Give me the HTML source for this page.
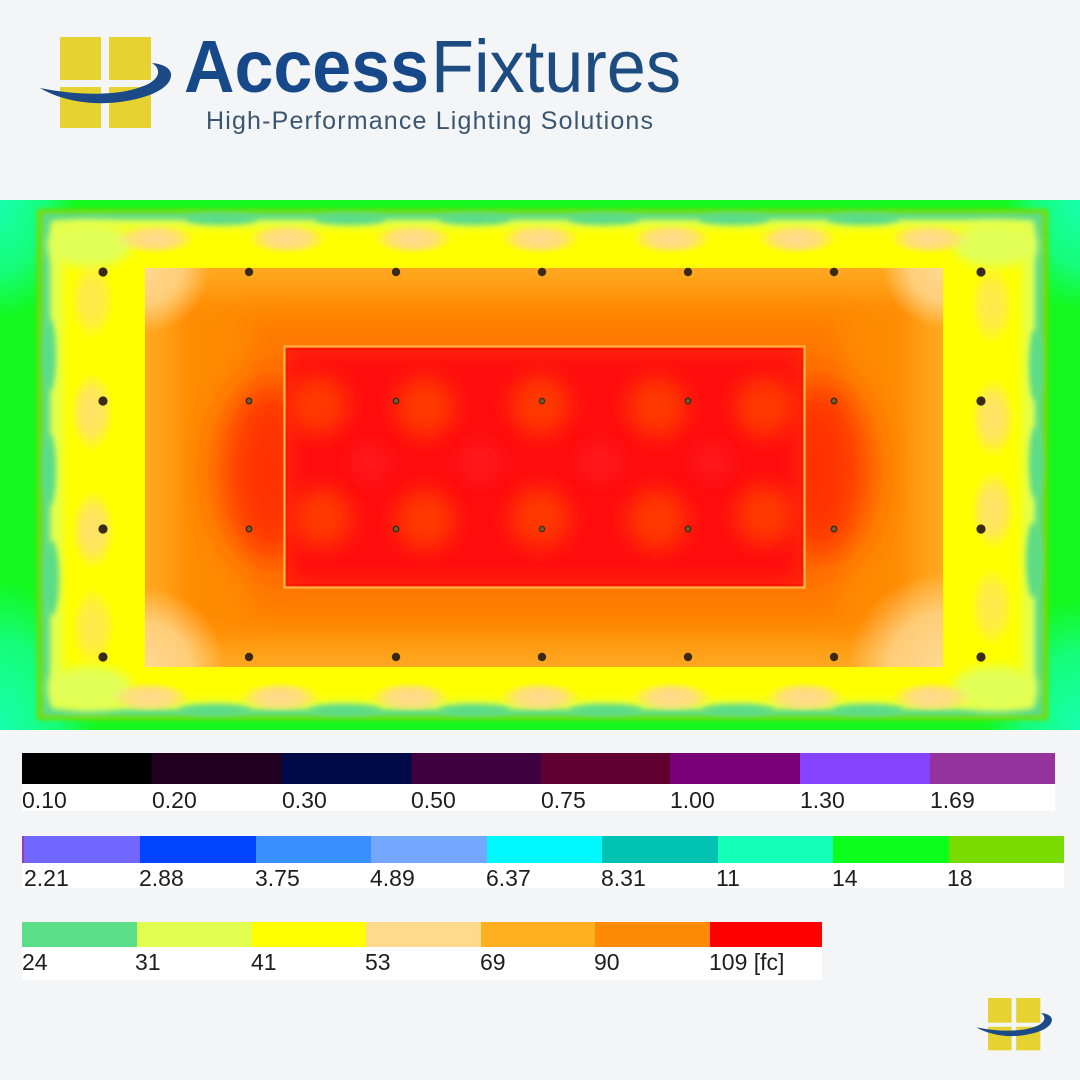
<!DOCTYPE html>
<html><head><meta charset="utf-8"><style>
html,body{margin:0;padding:0;background:#f4f5f7;width:1080px;height:1080px;overflow:hidden}
svg{display:block}
</style></head><body>
<svg width="1080" height="1080" viewBox="0 0 1080 1080" xmlns="http://www.w3.org/2000/svg" font-family="'Liberation Sans', Arial, sans-serif">
<defs>
  <clipPath id="hm"><rect x="0" y="200" width="1080" height="530"/></clipPath>
  <clipPath id="orc"><rect x="145" y="268" width="798" height="399"/></clipPath>
  <clipPath id="rdc"><rect x="284" y="346" width="521" height="242"/></clipPath>
  <filter id="b2" x="-20%" y="-20%" width="140%" height="140%"><feGaussianBlur stdDeviation="2"/></filter>
  <filter id="b3" x="-20%" y="-20%" width="140%" height="140%"><feGaussianBlur stdDeviation="3"/></filter>
  <filter id="b5" x="-20%" y="-20%" width="140%" height="140%"><feGaussianBlur stdDeviation="5"/></filter>
  <filter id="bs" x="-60%" y="-60%" width="220%" height="220%"><feGaussianBlur stdDeviation="5"/></filter>
  <filter id="bs3" x="-60%" y="-60%" width="220%" height="220%"><feGaussianBlur stdDeviation="3"/></filter>
  <filter id="b10" x="-60%" y="-60%" width="220%" height="220%"><feGaussianBlur stdDeviation="10"/></filter>
  <filter id="b12" x="-30%" y="-30%" width="160%" height="160%"><feGaussianBlur stdDeviation="12"/></filter>
  <filter id="b14" x="-30%" y="-30%" width="160%" height="160%"><feGaussianBlur stdDeviation="14"/></filter>
  <filter id="b18" x="-60%" y="-60%" width="220%" height="220%"><feGaussianBlur stdDeviation="18"/></filter>
  <radialGradient id="cy">
    <stop offset="0" stop-color="#16ffb0" stop-opacity="1"/>
    <stop offset="0.6" stop-color="#16ffa0" stop-opacity="0.7"/>
    <stop offset="1" stop-color="#16ff90" stop-opacity="0"/>
  </radialGradient>
  <radialGradient id="pale">
    <stop offset="0" stop-color="#ffd890" stop-opacity="1"/>
    <stop offset="0.55" stop-color="#ffd890" stop-opacity="0.8"/>
    <stop offset="1" stop-color="#ffd890" stop-opacity="0"/>
  </radialGradient>
  <g id="logo">
    <rect x="60" y="37" width="41" height="43" fill="#e6d332"/>
    <rect x="109" y="37" width="42" height="43" fill="#e6d332"/>
    <rect x="60" y="87" width="41" height="41" fill="#e6d332"/>
    <rect x="109" y="87" width="42" height="41" fill="#e6d332"/>
    <path d="M40,88 C60,100 90,106 120,102 C150,98 170,88 171,76 C172,69 164,64 152,63 C160,68 161,76 150,83 C130,94 90,98 40,88 Z" fill="#1b4a86"/>
  </g>
</defs>

<rect width="1080" height="1080" fill="#f4f5f7"/>

<!-- Header logo -->
<use href="#logo"/>
<text x="184" y="92" font-size="74" font-weight="bold" fill="#17498a" textLength="245" lengthAdjust="spacingAndGlyphs">Access</text>
<text x="431" y="92" font-size="74" fill="#1d4d80" textLength="250" lengthAdjust="spacingAndGlyphs">Fixtures</text>
<text x="206" y="129" font-size="25" fill="#3b5670" textLength="447" lengthAdjust="spacing">High-Performance Lighting Solutions</text>

<!-- Heatmap -->
<g clip-path="url(#hm)">
  <rect x="0" y="200" width="1080" height="530" fill="#14f820"/>
  <ellipse cx="0" cy="200" rx="75" ry="120" fill="url(#cy)"/>
  <ellipse cx="1080" cy="200" rx="75" ry="110" fill="url(#cy)"/>
  <ellipse cx="0" cy="730" rx="95" ry="150" fill="url(#cy)"/>
  <ellipse cx="1080" cy="730" rx="95" ry="130" fill="url(#cy)"/>
  <rect x="37" y="209" width="1011" height="511" fill="#74dc00" filter="url(#b2)"/>
  <rect x="42" y="213" width="1001" height="503" fill="#5cdc86" filter="url(#b2)"/>
  <rect x="50" y="220" width="985" height="489" rx="6" fill="#e0ff52" filter="url(#b3)"/>
  <rect x="62" y="227" width="961" height="475" rx="10" fill="#ffff00" filter="url(#b5)"/>

  <!-- teal waves -->
  <g fill="#5cdc86" filter="url(#bs3)">
    <ellipse cx="221" cy="219" rx="36" ry="6"/>
    <ellipse cx="350" cy="219" rx="36" ry="6"/>
    <ellipse cx="475" cy="219" rx="36" ry="6"/>
    <ellipse cx="604" cy="219" rx="36" ry="6"/>
    <ellipse cx="734" cy="219" rx="36" ry="6"/>
    <ellipse cx="863" cy="219" rx="36" ry="6"/>
    <ellipse cx="215" cy="710" rx="36" ry="6"/>
    <ellipse cx="345" cy="710" rx="36" ry="6"/>
    <ellipse cx="475" cy="710" rx="36" ry="6"/>
    <ellipse cx="606" cy="710" rx="36" ry="6"/>
    <ellipse cx="738" cy="710" rx="36" ry="6"/>
    <ellipse cx="868" cy="710" rx="36" ry="6"/>
    <ellipse cx="49" cy="355" rx="7" ry="36"/>
    <ellipse cx="49" cy="470" rx="7" ry="36"/>
    <ellipse cx="51" cy="578" rx="8" ry="38"/>
    <ellipse cx="1036" cy="365" rx="7" ry="36"/>
    <ellipse cx="1036" cy="463" rx="7" ry="36"/>
    <ellipse cx="1034" cy="560" rx="8" ry="38"/>
  </g>
  <!-- corner yellow-green -->
  <g fill="#e2ff58" filter="url(#bs)">
    <ellipse cx="90" cy="245" rx="42" ry="22"/>
    <ellipse cx="995" cy="245" rx="42" ry="22"/>
    <ellipse cx="90" cy="688" rx="42" ry="22"/>
    <ellipse cx="995" cy="688" rx="42" ry="22"/>
  </g>
  <!-- pale blobs top/bottom -->
  <g fill="url(#pale)">
    <ellipse cx="155" cy="239" rx="40" ry="15"/>
    <ellipse cx="287" cy="239" rx="40" ry="15"/>
    <ellipse cx="413" cy="239" rx="40" ry="15"/>
    <ellipse cx="540" cy="239" rx="40" ry="15"/>
    <ellipse cx="671" cy="239" rx="40" ry="15"/>
    <ellipse cx="797" cy="239" rx="40" ry="15"/>
    <ellipse cx="929" cy="239" rx="40" ry="15"/>
    <ellipse cx="150" cy="697" rx="40" ry="15"/>
    <ellipse cx="280" cy="697" rx="40" ry="15"/>
    <ellipse cx="410" cy="697" rx="40" ry="15"/>
    <ellipse cx="540" cy="697" rx="40" ry="15"/>
    <ellipse cx="672" cy="697" rx="40" ry="15"/>
    <ellipse cx="805" cy="697" rx="40" ry="15"/>
    <ellipse cx="932" cy="697" rx="40" ry="15"/>
    <ellipse cx="92" cy="300" rx="22" ry="40" opacity="0.55"/>
    <ellipse cx="92" cy="412" rx="22" ry="40" opacity="0.75"/>
    <ellipse cx="93" cy="530" rx="22" ry="40" opacity="0.75"/>
    <ellipse cx="93" cy="627" rx="22" ry="40" opacity="0.55"/>
    <ellipse cx="992" cy="305" rx="22" ry="40" opacity="0.55"/>
    <ellipse cx="993" cy="418" rx="22" ry="40" opacity="0.75"/>
    <ellipse cx="993" cy="510" rx="22" ry="40" opacity="0.75"/>
    <ellipse cx="992" cy="607" rx="22" ry="40" opacity="0.55"/>
  </g>

  <!-- Orange rectangle -->
  <g clip-path="url(#orc)">
    <rect x="145" y="268" width="798" height="399" fill="#ffa820"/>
    <rect x="172" y="292" width="744" height="351" fill="#ff8a00" filter="url(#b14)"/>
    <rect x="250" y="320" width="590" height="295" fill="#ff6a00" filter="url(#b14)" opacity="0.55"/>
    <ellipse cx="270" cy="472" rx="50" ry="90" fill="#ff2400" filter="url(#b18)" opacity="0.8"/>
    <ellipse cx="820" cy="470" rx="50" ry="90" fill="#ff2400" filter="url(#b18)" opacity="0.8"/>
    <circle cx="145" cy="268" r="65" fill="url(#pale)"/>
    <circle cx="943" cy="268" r="60" fill="url(#pale)"/>
    <circle cx="145" cy="667" r="80" fill="url(#pale)"/>
    <circle cx="943" cy="667" r="95" fill="url(#pale)"/>
  </g>

  <!-- Red rectangle -->
  <g clip-path="url(#rdc)">
    <rect x="284" y="346" width="521" height="242" fill="#ff2800"/>
    <rect x="288" y="350" width="513" height="234" fill="#ff0808" filter="url(#b12)"/>
    <g fill="#ff3800" filter="url(#b10)">
      <circle cx="318" cy="405" r="30"/>
      <circle cx="425" cy="407" r="30"/>
      <circle cx="540" cy="405" r="30"/>
      <circle cx="657" cy="407" r="30"/>
      <circle cx="765" cy="407" r="30"/>
      <circle cx="322" cy="518" r="30"/>
      <circle cx="425" cy="520" r="30"/>
      <circle cx="540" cy="518" r="30"/>
      <circle cx="657" cy="520" r="30"/>
      <circle cx="765" cy="515" r="30"/>
    </g>
    <g fill="#ff1a24" filter="url(#b10)" opacity="0.7">
      <circle cx="480" cy="462" r="22"/>
      <circle cx="600" cy="462" r="22"/>
      <circle cx="370" cy="462" r="20"/>
      <circle cx="712" cy="462" r="20"/>
    </g>
  </g>
  <rect x="284.5" y="346.5" width="520" height="241" fill="none" stroke="#ffb448" stroke-width="2.2"/>

  <!-- fixtures -->
  <g fill="#3a2a14">
    <circle cx="103" cy="272" r="4.6"/><circle cx="249" cy="272" r="4.2"/><circle cx="396" cy="272" r="4.2"/><circle cx="542" cy="272" r="4.2"/><circle cx="688" cy="272" r="4.2"/><circle cx="834" cy="272" r="4.2"/><circle cx="981" cy="272" r="4.6"/>
    <circle cx="103" cy="401" r="4.6"/><circle cx="981" cy="401" r="4.6"/>
    <circle cx="103" cy="529" r="4.6"/><circle cx="981" cy="529" r="4.6"/>
    <circle cx="103" cy="657" r="4.6"/><circle cx="249" cy="657" r="4.2"/><circle cx="396" cy="657" r="4.2"/><circle cx="542" cy="657" r="4.2"/><circle cx="688" cy="657" r="4.2"/><circle cx="834" cy="657" r="4.2"/><circle cx="981" cy="657" r="4.6"/>
  </g>
  <g fill="#7a5a30" stroke="#3a2a14" stroke-width="1.3">
    <circle cx="249" cy="401" r="2.8"/><circle cx="396" cy="401" r="2.8"/><circle cx="542" cy="401" r="2.6"/><circle cx="688" cy="401" r="2.8"/><circle cx="834" cy="401" r="2.8"/>
    <circle cx="249" cy="529" r="2.8"/><circle cx="396" cy="529" r="2.8"/><circle cx="542" cy="529" r="2.6"/><circle cx="688" cy="529" r="2.8"/><circle cx="834" cy="529" r="2.8"/>
  </g>
</g>

<!-- Legend row 1 -->
<rect x="22" y="784" width="1033" height="27" fill="#ffffff"/>
<rect x="22" y="753" width="130" height="31" fill="#000000"/>
<rect x="151.5" y="753" width="130.5" height="31" fill="#22001f"/>
<rect x="281.5" y="753" width="130.5" height="31" fill="#000a48"/>
<rect x="411.5" y="753" width="130" height="31" fill="#3e003e"/>
<rect x="541" y="753" width="129.5" height="31" fill="#5f0030"/>
<rect x="670" y="753" width="130.5" height="31" fill="#780078"/>
<rect x="800" y="753" width="130.5" height="31" fill="#8542ff"/>
<rect x="930" y="753" width="125" height="31" fill="#95329c"/>
<g font-size="23" fill="#1e1e1e">
  <text x="22" y="808">0.10</text>
  <text x="152" y="808">0.20</text>
  <text x="282" y="808">0.30</text>
  <text x="411" y="808">0.50</text>
  <text x="541" y="808">0.75</text>
  <text x="670" y="808">1.00</text>
  <text x="800" y="808">1.30</text>
  <text x="930" y="808">1.69</text>
</g>

<!-- Legend row 2 -->
<rect x="22" y="863" width="1042" height="25" fill="#ffffff"/>
<rect x="22" y="836" width="2.5" height="27" fill="#9a3cb0"/>
<rect x="24" y="836" width="116.5" height="27" fill="#7166ff"/>
<rect x="140" y="836" width="116.5" height="27" fill="#0044ff"/>
<rect x="256" y="836" width="115.5" height="27" fill="#3890ff"/>
<rect x="371" y="836" width="116.5" height="27" fill="#74a8ff"/>
<rect x="487" y="836" width="115.5" height="27" fill="#00f8ff"/>
<rect x="602" y="836" width="116.5" height="27" fill="#00c2b2"/>
<rect x="718" y="836" width="115.5" height="27" fill="#14ffb8"/>
<rect x="833" y="836" width="116.5" height="27" fill="#0cff1c"/>
<rect x="949" y="836" width="115" height="27" fill="#78dc00"/>
<g font-size="23" fill="#1e1e1e">
  <text x="24" y="886">2.21</text>
  <text x="139" y="886">2.88</text>
  <text x="255" y="886">3.75</text>
  <text x="370" y="886">4.89</text>
  <text x="486" y="886">6.37</text>
  <text x="601" y="886">8.31</text>
  <text x="716" y="886">11</text>
  <text x="832" y="886">14</text>
  <text x="947" y="886">18</text>
</g>

<!-- Legend row 3 -->
<rect x="22" y="947" width="800" height="33" fill="#ffffff"/>
<rect x="22" y="922" width="115.5" height="25" fill="#5ade88"/>
<rect x="137" y="922" width="115.5" height="25" fill="#e2ff50"/>
<rect x="252" y="922" width="114.5" height="25" fill="#ffff00"/>
<rect x="366" y="922" width="115.5" height="25" fill="#ffda8c"/>
<rect x="481" y="922" width="114.5" height="25" fill="#ffb020"/>
<rect x="595" y="922" width="115.5" height="25" fill="#ff8a08"/>
<rect x="710" y="922" width="112" height="25" fill="#ff0000"/>
<g font-size="23" fill="#1e1e1e">
  <text x="22" y="970">24</text>
  <text x="135" y="970">31</text>
  <text x="251" y="970">41</text>
  <text x="365" y="970">53</text>
  <text x="480" y="970">69</text>
  <text x="594" y="970">90</text>
  <text x="709" y="970">109 [fc]</text>
</g>

<!-- small logo bottom right -->
<use href="#logo" transform="translate(988 998) scale(0.575) translate(-60 -37)"/>
</svg>
</body></html>
